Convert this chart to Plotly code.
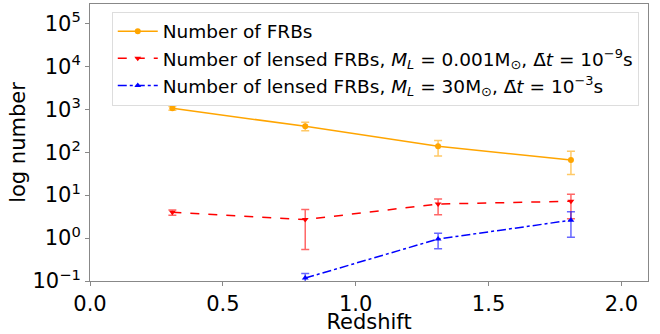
import plotly.graph_objects as go

# Data
z = [0.31, 0.81, 1.31, 1.81]

n_frb = [1050, 400, 137, 66]
n_frb_hi = [1150, 500, 186, 105]
n_frb_lo = [950, 315, 81, 30]

n_lens_a = [4.0, 2.7, 6.2, 7.2]
n_lens_a_hi = [4.5, 4.6, 8.1, 10.5]
n_lens_a_lo = [3.4, 0.54, 3.5, 2.8]

z_b = [0.81, 1.31, 1.81]
n_lens_b = [0.117, 0.95, 2.6]
n_lens_b_hi = [0.15, 1.3, 4.1]
n_lens_b_lo = [0.09, 0.56, 1.05]

ytick_vals = [0.1, 1, 10, 100, 1000, 10000, 100000]
ytick_text = ["10<sup>−1</sup>", "10<sup>0</sup>", "10<sup>1</sup>", "10<sup>2</sup>",
              "10<sup>3</sup>", "10<sup>4</sup>", "10<sup>5</sup>"]
xtick_vals = [0.0, 0.5, 1.0, 1.5, 2.0]
xtick_text = ["0.0", "0.5", "1.0", "1.5", "2.0"]

names = [
    "Number of FRBs",
    "Number of lensed FRBs, <i>M<sub>L</sub></i> = 0.001M<sub>⊙</sub>, Δ̄<i>t</i> = 10<sup>−9</sup>s",
    "Number of lensed FRBs, <i>M<sub>L</sub></i> = 30M<sub>⊙</sub>, Δ̄<i>t</i> = 10<sup>−3</sup>s",
]


def err(v, hi, lo, color):
    return dict(type="data", symmetric=False,
                array=[h - x for h, x in zip(hi, v)],
                arrayminus=[x - l for l, x in zip(lo, v)],
                color=color, thickness=1.5, width=4)


fig = go.Figure()
fig.add_trace(go.Scatter(
    x=z, y=n_frb, mode="lines+markers", name=names[0], legendgroup="a",
    line=dict(color="#FFA500", width=1.5),
    marker=dict(symbol="circle", size=6, color="#FFA500"),
    error_y=err(n_frb, n_frb_hi, n_frb_lo, "rgba(255,165,0,0.6)"),
))
fig.add_trace(go.Scatter(
    x=z, y=n_lens_a, mode="lines+markers", name=names[1], legendgroup="b",
    line=dict(color="red", width=1.5, dash="dash"),
    marker=dict(symbol="triangle-down", size=6, color="red"),
    error_y=err(n_lens_a, n_lens_a_hi, n_lens_a_lo, "rgba(255,0,0,0.6)"),
))
fig.add_trace(go.Scatter(
    x=z_b, y=n_lens_b, mode="lines+markers", name=names[2], legendgroup="c",
    line=dict(color="blue", width=1.5, dash="dashdot"),
    marker=dict(symbol="triangle-up", size=6, color="blue"),
    error_y=err(n_lens_b, n_lens_b_hi, n_lens_b_lo, "rgba(0,0,255,0.6)"),
))

axis_common = dict(showgrid=False, zeroline=False, showline=True, mirror=True,
                   linecolor="#888888", linewidth=1, ticks="outside", ticklen=4,
                   tickcolor="#888888", tickfont=dict(size=21, color="black"))

fig.update_layout(
    width=660, height=334,
    margin=dict(l=90, r=12, t=3, b=48),
    paper_bgcolor="white", plot_bgcolor="white",
    font=dict(family="DejaVu Sans", color="black"),
    xaxis=dict(range=[0, 2.1], tickvals=xtick_vals, ticktext=xtick_text,
               title=dict(text="Redshift", font=dict(size=21), standoff=0),
               **axis_common),
    yaxis=dict(type="log", range=[-1, 5.45], tickvals=ytick_vals, ticktext=ytick_text,
               title=dict(text="log number", font=dict(size=21), standoff=1),
               **axis_common),
    legend=dict(x=0.039, y=0.972, xanchor="left", yanchor="top",
                font=dict(size=18.5), bgcolor="rgba(255,255,255,0.8)",
                bordercolor="#dddddd", borderwidth=1, tracegroupgap=0,
                itemwidth=40),
    showlegend=True,
)

fig.write_html("out.html")
